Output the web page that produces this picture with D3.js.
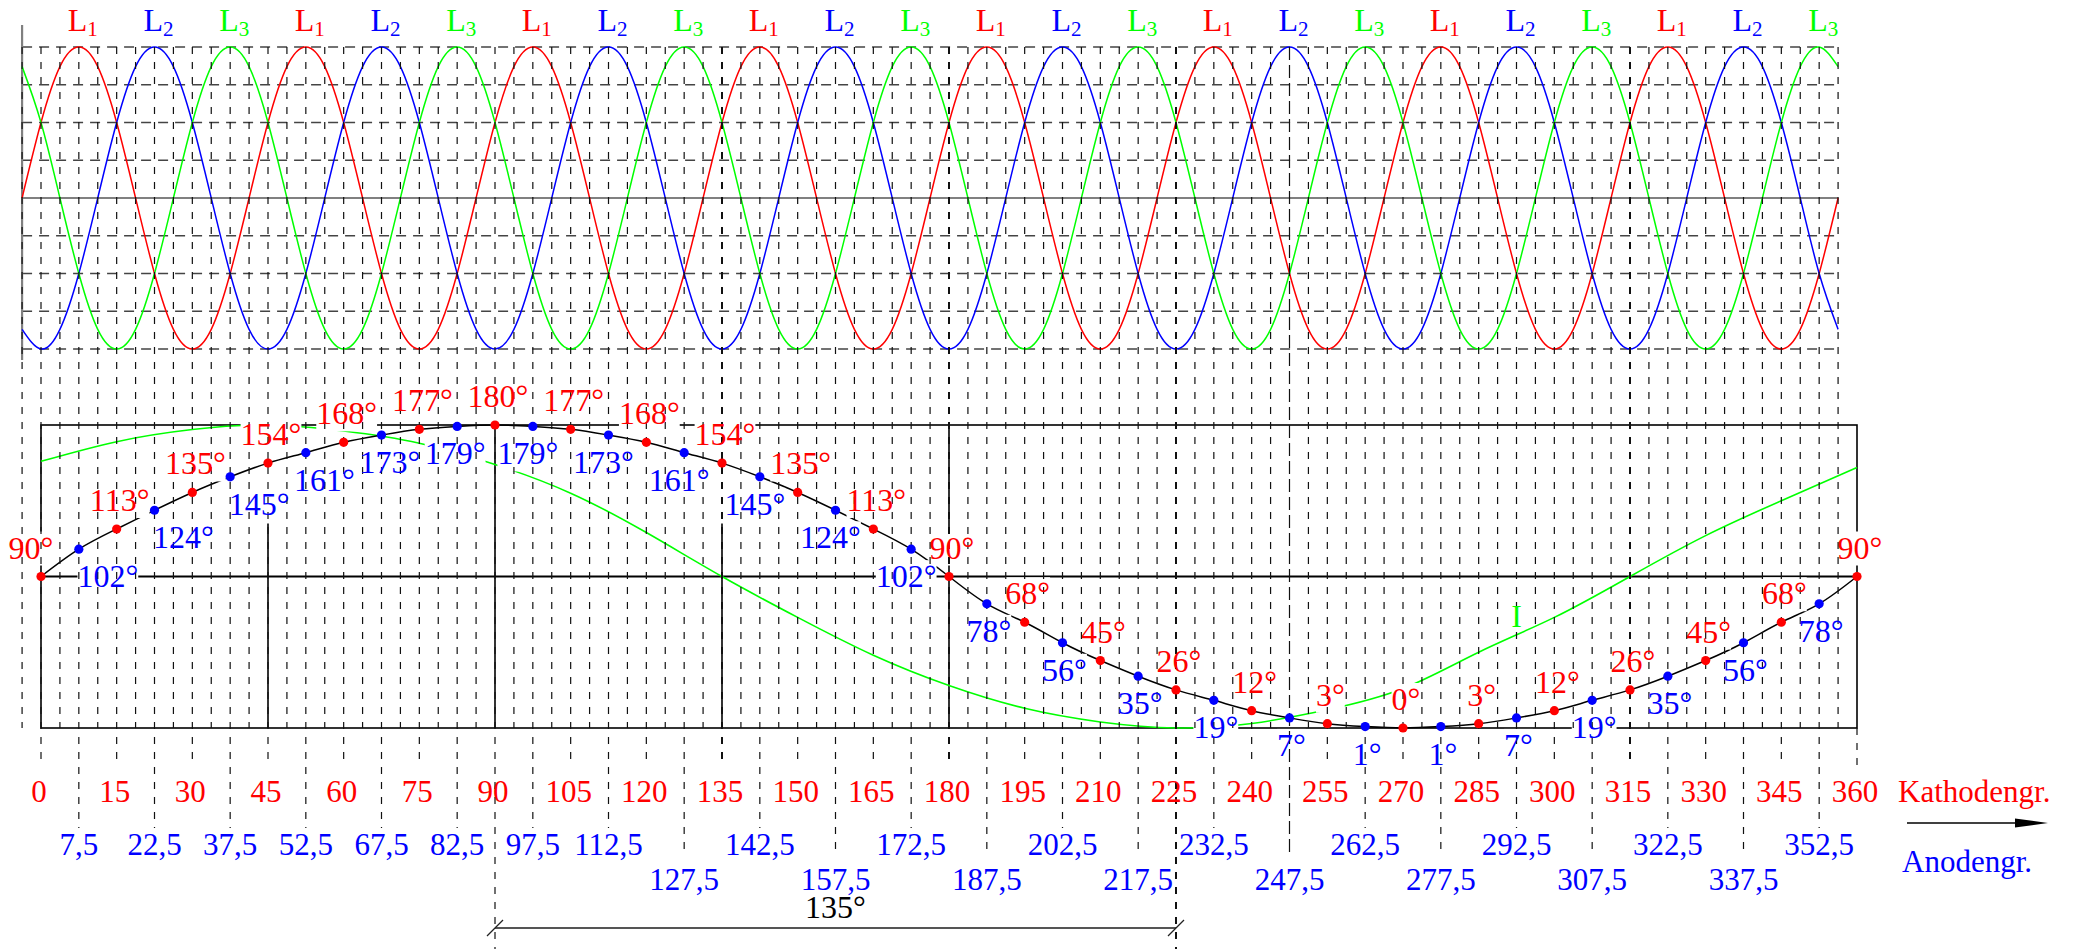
<!DOCTYPE html>
<html lang="de">
<head>
  <meta charset="UTF-8">
  <title>Zündwinkel Kathoden- / Anodengruppe</title>
  <script src="https://cdn.jsdelivr.net/npm/d3@7"></script>
  <style>
    html, body { margin: 0; padding: 0; background: #fff; }
    svg { display: block; }
    svg text { font-family: 'Liberation Serif', Tinos, 'Times New Roman', 'DejaVu Serif', serif; }
  </style>
</head>
<body>
  <svg width="2075" height="949" id="main" font-family="Liberation Serif"></svg>
<script>
  // ---- Daten ----
  const phaseNames = ['1', '2', '3'];
  const phaseColors = ['#ff0000', '#0000ff', '#00ff00'];
  const periodSamples = [0, 0.5, 0.87, 1, 0.87, 0.5, 0, -0.5, -0.87, -1, -0.87, -0.5];
  const periodCount = 8;
  const phaseShiftSteps = [0, 4, 8]; // 120° Versatz = 4 Gitterschritte

  // Kathodengruppe (rot), Zündwinkel an den Punkten
  const kathodeTicks = [0, 15, 30, 45, 60, 75, 90, 105, 120, 135, 150, 165, 180,
    195, 210, 225, 240, 255, 270, 285, 300, 315, 330, 345, 360];
  const redAngles = [90, 113, 135, 154, 168, 177, 180, 177, 168, 154, 135, 113, 90,
    68, 45, 26, 12, 3, 0, 3, 12, 26, 45, 68, 90];

  // Anodengruppe (blau)
  const anodeTicks = ['7,5', '22,5', '37,5', '52,5', '67,5', '82,5', '97,5', '112,5',
    '127,5', '142,5', '157,5', '172,5', '187,5', '202,5', '217,5', '232,5', '247,5',
    '262,5', '277,5', '292,5', '307,5', '322,5', '337,5', '352,5'];
  const blueAngles = [102, 124, 145, 161, 173, 179, 179, 173, 161, 145, 124, 102,
    78, 56, 35, 19, 7, 1, 1, 7, 19, 35, 56, 78];

  const currentI = [0.76, 0.89, 0.97, 1.0, 0.96, 0.88, 0.74, 0.55, 0.29, 0, -0.27, -0.52,
    -0.72, -0.87, -0.96, -1.0, -0.97, -0.88, -0.74, -0.5, -0.27, 0, 0.27, 0.5, 0.72];

  const heavyLines = [135, 180, 225, 315];
  const longDashLines = [247.5];
  const dimension = { from: 90, to: 225, text: '135°' };

  // ---- Aufbau ----
  const svg = d3.select('#main');
  const W = +svg.attr('width'), H = +svg.attr('height');
  const step = 3.75; // Gitterabstand in Kathodengrad
  const serif = "'Liberation Serif', Tinos, 'Times New Roman', 'DejaVu Serif', serif";

  const x = d3.scaleLinear().domain([0, 360]).range([41, 1857]);
  const yWave = d3.scaleLinear().domain([-1, 1]).range([349, 47]);
  // Zündwinkelachse: um 90° symmetrisch, leicht gestaucht wie im Original
  const yPow = d3.scalePow().exponent(0.85).domain([-90, 90]).range([728, 425]);
  const yAngle = v => yPow(v - 90);
  const yI = d3.scaleLinear().domain([-1, 1]).range([728, 425]);

  const anodeVal = s => parseFloat(s.replace(',', '.'));
  const anodeRow = i => (i < 8 ? 0 : (i % 2 === 0 ? 1 : 0));

  svg.append('rect').attr('width', W).attr('height', H).attr('fill', '#fff');

  const gTopGrid = svg.append('g');
  const gWaves = svg.append('g');
  const gBox = svg.append('g');
  const gCurves = svg.append('g');
  const gBg = svg.append('g');
  const gGrid = svg.append('g');
  const gDots = svg.append('g');
  const gText = svg.append('g').attr('font-family', serif);

  // oberes Diagramm: waagerechte Hilfslinien
  const topX0 = x(-step), topX1 = x(step * (periodCount * 12 - 1));
  d3.range(-1, 1.01, 0.25).forEach(v => {
    gTopGrid.append('line')
      .attr('x1', topX0).attr('x2', topX1)
      .attr('y1', yWave(v)).attr('y2', yWave(v))
      .attr('stroke', v === 0 ? '#808080' : '#444')
      .attr('stroke-width', v === 0 ? 2.2 : 1.3)
      .attr('stroke-dasharray', v === 0 ? null : '10,7');
  });
  // linke Achse
  gTopGrid.append('line')
    .attr('x1', topX0).attr('x2', topX0).attr('y1', 25).attr('y2', 360)
    .attr('stroke', '#808080').attr('stroke-width', 2.2);

  // Phasenspannungen L1, L2, L3
  const steps = d3.range(-1, periodCount * 12);
  const waveLine = d3.line().x(d => d[0]).y(d => d[1]).curve(d3.curveNatural);
  phaseShiftSteps.forEach((shift, p) => {
    const pts = steps.map(k => [x(k * step), yWave(periodSamples[(((k + 1 - shift) % 12) + 12) % 12])]);
    gWaves.append('path')
      .attr('d', waveLine(pts))
      .attr('fill', 'none')
      .attr('stroke', phaseColors[p])
      .attr('stroke-width', 1.5);
    d3.range(periodCount).forEach(j => {
      const theta = 7.5 + 15 * p + 45 * j;
      const t = gText.append('text')
        .attr('x', x(theta) + 4).attr('y', 31)
        .attr('text-anchor', 'middle')
        .attr('fill', phaseColors[p])
        .attr('font-size', 32)
        .text('L');
      t.append('tspan').attr('font-size', 21).attr('dy', 5).text(phaseNames[p]);
    });
  });

  // unteres Diagramm: Rahmen
  gBox.append('rect')
    .attr('x', x(0)).attr('y', yAngle(180))
    .attr('width', x(360) - x(0)).attr('height', yAngle(0) - yAngle(180))
    .attr('fill', 'none').attr('stroke', '#000').attr('stroke-width', 1.6);
  gBox.append('line')
    .attr('x1', x(0)).attr('x2', x(360))
    .attr('y1', yAngle(90)).attr('y2', yAngle(90))
    .attr('stroke', '#000').attr('stroke-width', 1.8);
  [[45, yI(0.35)], [90, yI(1)], [135, yI(0.35)], [180, yI(1)]].forEach(([t, top]) => {
    gBox.append('line')
      .attr('x1', x(t)).attr('x2', x(t))
      .attr('y1', top).attr('y2', yI(-1))
      .attr('stroke', '#000').attr('stroke-width', 1.6);
  });

  // Strom I
  const iLine = d3.line().x((d, i) => x(kathodeTicks[i])).y(d => yI(d)).curve(d3.curveNatural);
  gCurves.append('path')
    .attr('d', iLine(currentI))
    .attr('fill', 'none').attr('stroke', '#00ff00').attr('stroke-width', 1.6);

  // Zündwinkelkurve
  const points = kathodeTicks.map((t, i) => ({ theta: t, v: redAngles[i], color: '#ff0000', red: true }))
    .concat(anodeTicks.map((s, i) => ({ theta: anodeVal(s), v: blueAngles[i], color: '#0000ff', red: false })))
    .sort((a, b) => a.theta - b.theta);

  const curve = d3.line().x(d => x(d.theta)).y(d => yAngle(d.v)).curve(d3.curveNatural);
  gCurves.append('path')
    .attr('d', curve(points))
    .attr('fill', 'none').attr('stroke', '#000').attr('stroke-width', 1.5);

  // senkrechte Gitterlinien
  d3.range(-1, 97).forEach(k => {
    const theta = k * step;
    const y0 = k === 96 ? yAngle(0) : yWave(1);
    let y1;
    if (k % 2 !== 0) y1 = yAngle(0);
    else if (k % 4 === 0) y1 = 765;
    else y1 = anodeRow((k - 2) / 4) ? 857 : 828;
    if (theta === dimension.from || theta === dimension.to) y1 = H;
    const heavy = heavyLines.includes(theta);
    const longDash = longDashLines.includes(theta);
    gGrid.append('line')
      .attr('x1', x(theta)).attr('x2', x(theta))
      .attr('y1', y0).attr('y2', y1)
      .attr('stroke', '#111')
      .attr('stroke-width', heavy ? 2 : 1.2)
      .attr('stroke-dasharray', longDash ? '13,5' : '7,8');
  });

  // Punkte
  gDots.selectAll('circle')
    .data(points)
    .join('circle')
    .attr('cx', d => x(d.theta))
    .attr('cy', d => yAngle(d.v))
    .attr('r', 4.6)
    .attr('fill', d => d.color);

  // Beschriftung der Punkte mit weißem Hintergrund
  const blueDx = t => (t < 37.5 ? 29 : t < 90 ? 29 - (t - 37.5) * 0.69 : t < 180 ? -5 : 2);
  points.forEach(d => {
    const px = x(d.theta), py = yAngle(d.v);
    const lx = d.red ? px + (d.theta === 0 ? -10 : 3) : px + blueDx(d.theta);
    const ly = d.red ? py - 18 : py + 38;
    const t = gText.append('text')
      .attr('x', lx).attr('y', ly)
      .attr('text-anchor', 'middle')
      .attr('font-size', 32)
      .attr('fill', d.color)
      .text(d.v + '°');
    const b = t.node().getBBox();
    gBg.append('rect')
      .attr('x', b.x).attr('y', b.y + 2)
      .attr('width', b.width).attr('height', b.height - 2)
      .attr('fill', '#fff');
  });

  // I
  gText.append('text')
    .attr('x', x(292.5)).attr('y', 627)
    .attr('text-anchor', 'middle')
    .attr('font-size', 32)
    .attr('fill', '#00ff00')
    .text('I');

  // Achsenbeschriftung Kathodengrade
  gText.selectAll('.kt')
    .data(kathodeTicks)
    .join('text')
    .attr('class', 'kt')
    .attr('x', d => x(d) - 2).attr('y', 802)
    .attr('text-anchor', 'middle')
    .attr('font-size', 31)
    .attr('fill', '#ff0000')
    .text(d => d);

  // Achsenbeschriftung Anodengrade
  gText.selectAll('.at')
    .data(anodeTicks)
    .join('text')
    .attr('class', 'at')
    .attr('x', d => x(anodeVal(d))).attr('y', (d, i) => anodeRow(i) ? 890 : 855)
    .attr('text-anchor', 'middle')
    .attr('font-size', 31)
    .attr('fill', '#0000ff')
    .text(d => d);

  // Legende rechts
  gText.append('text')
    .attr('x', 1898).attr('y', 802)
    .attr('font-size', 31).attr('fill', '#ff0000')
    .text('Kathodengr.');
  gText.append('text')
    .attr('x', 1902).attr('y', 872)
    .attr('font-size', 31).attr('fill', '#0000ff')
    .text('Anodengr.');
  const arrowY = 823, arrowX0 = 1907, arrowX1 = 2048;
  gText.append('line')
    .attr('x1', arrowX0).attr('x2', arrowX1 - 20)
    .attr('y1', arrowY).attr('y2', arrowY)
    .attr('stroke', '#000').attr('stroke-width', 1.5);
  gText.append('path')
    .attr('d', `M${arrowX1},${arrowY}L${arrowX1 - 33},${arrowY - 4.5}L${arrowX1 - 33},${arrowY + 4.5}Z`)
    .attr('fill', '#000');

  // Maßlinie 135°
  const dimY = 928;
  gText.append('line')
    .attr('x1', x(dimension.from)).attr('x2', x(dimension.to))
    .attr('y1', dimY).attr('y2', dimY)
    .attr('stroke', '#555').attr('stroke-width', 2);
  [dimension.from, dimension.to].forEach(t => {
    gText.append('line')
      .attr('x1', x(t) - 8).attr('x2', x(t) + 8)
      .attr('y1', dimY + 8).attr('y2', dimY - 8)
      .attr('stroke', '#222').attr('stroke-width', 1.2);
  });
  gText.append('text')
    .attr('x', (x(dimension.from) + x(dimension.to)) / 2).attr('y', 918)
    .attr('text-anchor', 'middle')
    .attr('font-size', 32).attr('fill', '#000')
    .text(dimension.text);
</script>
</body>
</html>
